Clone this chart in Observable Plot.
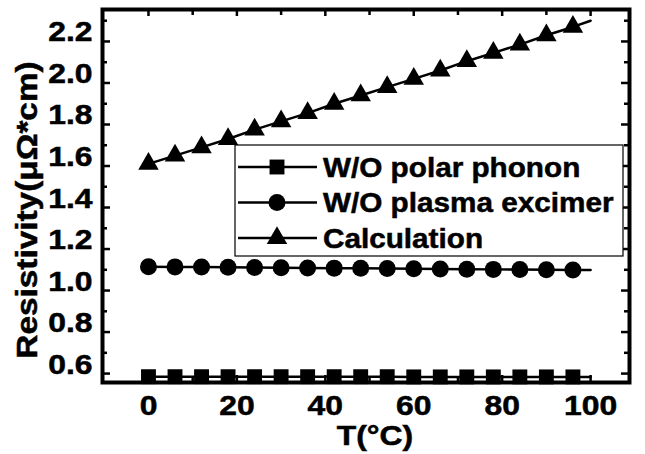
<!DOCTYPE html>
<html><head><meta charset="utf-8">
<script src="https://cdn.jsdelivr.net/npm/d3@7"></script>
<script src="https://cdn.jsdelivr.net/npm/@observablehq/plot@0.6"></script>
<style>
body{margin:0;background:#fff}
#chart svg{display:block}
</style>
</head><body><div id="chart"></div>
<script>
// ---- data ----
const T = [0, 6, 12, 18, 24, 30, 36, 42, 48, 54, 60, 66, 72, 78, 84, 90, 96, 100];
const woPolarPhonon   = [0.585, 0.585, 0.585, 0.585, 0.585, 0.585, 0.585, 0.585, 0.585, 0.585, 0.584, 0.584, 0.584, 0.584, 0.584, 0.584, 0.584, 0.584];
const woPlasmaExcimer = [1.115, 1.114, 1.113, 1.112, 1.111, 1.110, 1.109, 1.108, 1.107, 1.106, 1.105, 1.104, 1.103, 1.102, 1.101, 1.100, 1.099, 1.099];
const calculation     = [1.61, 1.65, 1.69, 1.73, 1.775, 1.815, 1.855, 1.90, 1.94, 1.98, 2.02, 2.06, 2.105, 2.145, 2.185, 2.23, 2.27, 2.30];
const seriesNames   = ["W/O polar phonon", "W/O plasma excimer", "Calculation"];
const seriesSymbols = ["square", "circle", "triangle"];
const lastMarkerT = 96;
const xMajorTicks = [0, 20, 40, 60, 80, 100];
const xMinorTicks = [10, 30, 50, 70, 90];
const yMajorTicks = [0.6, 0.8, 1.0, 1.2, 1.4, 1.6, 1.8, 2.0, 2.2];
const yMinorTicks = [0.7, 0.9, 1.1, 1.3, 1.5, 1.7, 1.9, 2.1, 2.3];
const xTitle = "T(°C)";
const yTitle = "Resistivity(μΩ*cm)";

// ---- build table ----
const seriesValues = [woPolarPhonon, woPlasmaExcimer, calculation];
const rows = [];
seriesNames.forEach((name, i) => T.forEach((t, j) => rows.push({T: t, v: seriesValues[i][j], series: name})));
const markerRows = rows.filter(d => d.T <= lastMarkerT);

const symbolR = {"square": 8.4, "circle": 8.5, "triangle": 7.6};
const FONT = "Liberation Sans, Arial, sans-serif";
const W = 645, H = 454, ML = 102, MR = 16, MT = 9, MB = 72;
const FW = W - ML - MR, FH = H - MT - MB;

const tickMarks = [];
for (const [vals, len] of [[yMajorTicks, 8], [yMinorTicks, 5]]) {
  tickMarks.push(Plot.tickY(vals, {y: d => d, insetRight: FW - len, stroke: "black", strokeWidth: 2.5}));
  tickMarks.push(Plot.tickY(vals, {y: d => d, insetLeft: FW - len, stroke: "black", strokeWidth: 2.5}));
}
for (const [vals, len] of [[xMajorTicks, 7], [xMinorTicks, 6]]) {
  tickMarks.push(Plot.tickX(vals, {x: d => d, insetTop: FH - len, stroke: "black", strokeWidth: 2.5}));
  tickMarks.push(Plot.tickX(vals, {x: d => d, insetBottom: FH - len, stroke: "black", strokeWidth: 2.5}));
}

const plot = Plot.plot({
  width: W,
  height: H,
  marginLeft: ML,
  marginRight: MR,
  marginTop: MT,
  marginBottom: MB,
  style: {fontFamily: FONT, fontWeight: "bold", fontSize: "27px", color: "black", background: "white"},
  x: {domain: [-10.4, 108.8], ticks: xMajorTicks, tickSize: 0, tickPadding: 10, tickFormat: d => String(d),
      label: xTitle, labelAnchor: "center", labelOffset: 62, labelArrow: "none"},
  y: {domain: [0.557, 2.354], ticks: yMajorTicks, tickSize: 0, tickPadding: 10, tickFormat: d3.format(".1f"),
      label: yTitle, labelAnchor: "center", labelOffset: 66, labelArrow: "none"},
  marks: [
    Plot.line(rows, {x: "T", y: "v", z: "series", stroke: "black", strokeWidth: 2.5}),
    ...seriesNames.map((name, i) =>
      Plot.dot(markerRows.filter(d => d.series === name),
        {x: "T", y: "v", symbol: () => seriesSymbols[i], r: symbolR[seriesSymbols[i]], fill: "black", stroke: "none"})
    ),
    ...tickMarks,
    Plot.frame({stroke: "black", strokeWidth: 4})
  ]
});
document.getElementById("chart").appendChild(plot);

const svg = d3.select(plot);
svg.selectAll("g[aria-label$='axis'], g[aria-label$='axis'] *").attr("font-size", null).attr("font-family", null);
svg.selectAll("text").attr("font-size", 27).attr("font-weight", "bold").attr("font-family", FONT)
  .attr("fill", "black").attr("stroke", "black").attr("stroke-width", 0.5);

// stretch text horizontally (reference font is wide); optional shift
function stretch(el, sx, dx = 0, dy = 0) {
  const x = el.getAttribute("x"), y = el.getAttribute("y");
  let t = el.getAttribute("transform") || "";
  if (x !== null || y !== null) {
    t += ` translate(${+x || 0},${+y || 0})`;
    el.removeAttribute("x"); el.removeAttribute("y");
  }
  el.setAttribute("transform", `translate(${dx},${dy}) ${t} scale(${sx},1)`);
}
svg.selectAll("g[aria-label='x-axis tick label'] text").each(function() { stretch(this, 1.18, 0, 22); });
svg.selectAll("g[aria-label='y-axis tick label'] text").each(function() { stretch(this, 1.18); });
svg.selectAll("g[aria-label='x-axis label'] text").each(function() { stretch(this, 1.18, 9, 0); });
svg.selectAll("g[aria-label='y-axis label'] text").attr("font-size", 29).each(function() { stretch(this, 1.15, 0, 14); });

// ---- legend ----
const lg = svg.append("g").attr("font-family", FONT).attr("font-weight", "bold").attr("font-size", 27).attr("text-anchor", "start");
lg.append("rect").attr("x", 235).attr("y", 145).attr("width", 388).attr("height", 111)
  .attr("fill", "white").attr("stroke", "black").attr("stroke-width", 1.2);
const d3sym = {"square": d3.symbolSquare, "circle": d3.symbolCircle, "triangle": d3.symbolTriangle};
seriesNames.forEach((name, i) => {
  const cy = 167 + i * 35.5;
  const g = lg.append("g").attr("transform", `translate(0,${cy})`);
  g.append("line").attr("x1", 238).attr("x2", 317).attr("y1", 0).attr("y2", 0).attr("stroke", "black").attr("stroke-width", 2.5);
  const s = seriesSymbols[i];
  g.append("path").attr("transform", "translate(277,0)")
    .attr("d", d3.symbol(d3sym[s], Math.PI * symbolR[s] * symbolR[s])()).attr("fill", "black");
  const t = g.append("text").attr("x", 323).attr("y", 0).attr("dy", "0.36em").attr("text-anchor", "start")
    .attr("stroke", "black").attr("stroke-width", 0.5).text(name);
  stretch(t.node(), 1.1);
});
</script>
</body></html>
